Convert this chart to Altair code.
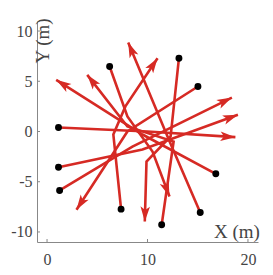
import altair as alt
import pandas as pd
import numpy as np

# start positions (black dots)
start_x = [1.14, 1.14, 1.25, 6.23, 13.13, 15.02, 16.8, 15.25, 11.41, 7.37]
start_y = [0.40, -3.55, -5.87, 6.47, 7.30, 4.48, -4.21, -8.06, -9.29, -7.73]
# intermediate waypoints of each trajectory
mid_x = [[10.0], [9.5], [8.5], [8.0, 10.5], [12.3, 9.9], [8.0], [9.5], [12.2], [12.6, 8.0], [6.6, 7.8]]
mid_y = [[0.0], [-1.8], [-1.5], [1.5, -2.0], [-0.5, -3.0], [0.0], [-0.3], [-1.0], [-1.0, 0.5], [-0.3, 2.5]]
# end positions (arrow tips)
end_x = [18.75, 19.0, 18.4, 12.19, 9.73, 2.93, 0.91, 8.08, 4.0, 11.0]
end_y = [-0.56, 1.66, 3.38, -6.47, -8.96, -7.79, 5.14, 8.86, 5.64, 7.30]

x_ticks = [0, 10, 20]
y_ticks = [-10, -5, 0, 5, 10]

rows = []
heads = []
for i in range(len(start_x)):
    xs = [start_x[i]] + mid_x[i] + [end_x[i]]
    ys = [start_y[i]] + mid_y[i] + [end_y[i]]
    for k, (x, y) in enumerate(zip(xs, ys)):
        rows.append({"path": i, "order": k, "x": x, "y": y})
    dx = xs[-1] - xs[-2]
    dy = ys[-1] - ys[-2]
    ang = float(np.degrees(np.arctan2(dx, dy))) % 360
    heads.append({"x": xs[-1], "y": ys[-1], "angle": ang})

lines_df = pd.DataFrame(rows)
heads_df = pd.DataFrame(heads)
dots_df = pd.DataFrame({"x": start_x, "y": start_y})

RED = "#d62a24"
xs = alt.Scale(domain=[-1, 21], nice=False, zero=False)
ys = alt.Scale(domain=[-11, 11], nice=False, zero=False)

xaxis = alt.Axis(values=x_ticks, title=None, grid=False, tickSize=0, labelPadding=9,
                 labelExpr="toString(datum.value)")
yaxis = alt.Axis(values=y_ticks, title=None, grid=False, tickSize=0, labelPadding=5,
                 labelExpr="toString(datum.value)")

lines = alt.Chart(lines_df).mark_line(color=RED, strokeWidth=2.6).encode(
    x=alt.X("x:Q", scale=xs, axis=xaxis),
    y=alt.Y("y:Q", scale=ys, axis=yaxis),
    detail="path:N",
    order="order:Q",
)

arrow_shape = "M0,0 L0.6,1.9 L0,1.45 L-0.6,1.9 Z"
heads_layer = alt.Chart(heads_df).mark_point(
    shape=arrow_shape, filled=True, color=RED, opacity=1, size=250, strokeWidth=0
).encode(x=alt.X("x:Q", scale=xs), y=alt.Y("y:Q", scale=ys), angle=alt.Angle("angle:Q", scale=None))

dots = alt.Chart(dots_df).mark_circle(color="black", size=48, opacity=1).encode(
    x=alt.X("x:Q", scale=xs), y=alt.Y("y:Q", scale=ys)
)

ytick_df = pd.DataFrame({"v": y_ticks})
xtick_df = pd.DataFrame({"v": x_ticks})
yt = alt.Chart(ytick_df).mark_rule(color="#888", strokeWidth=1).encode(
    y=alt.Y("v:Q", scale=ys), x=alt.value(0), x2=alt.value(3))
xt = alt.Chart(xtick_df).mark_rule(color="#888", strokeWidth=1).encode(
    x=alt.X("v:Q", scale=xs), y=alt.value(221), y2=alt.value(218))

ytitle = alt.Chart(pd.DataFrame({"t": ["Y (m)"]})).mark_text(
    angle=270, font="Liberation Serif", fontSize=19, color="#444", align="center", baseline="middle"
).encode(text="t:N", x=alt.value(6), y=alt.value(20))
xtitle = alt.Chart(pd.DataFrame({"t": ["X (m)"]})).mark_text(
    font="Liberation Serif", fontSize=19, color="#444", align="center", baseline="middle"
).encode(text="t:N", x=alt.value(200), y=alt.value(211))

chart = alt.layer(lines, heads_layer, dots, yt, xt, ytitle, xtitle).properties(
    width=221, height=221,
    autosize=alt.AutoSizeParams(type="none"),
    padding={"left": 29, "top": 13, "right": 7, "bottom": 25},
).configure_view(stroke=None).configure_axis(
    domainColor="#888", domainWidth=1, labelFont="Liberation Serif", labelFontSize=16,
    labelColor="#444"
)

chart.save("out.html", embed_options={"renderer": "svg", "actions": False})
